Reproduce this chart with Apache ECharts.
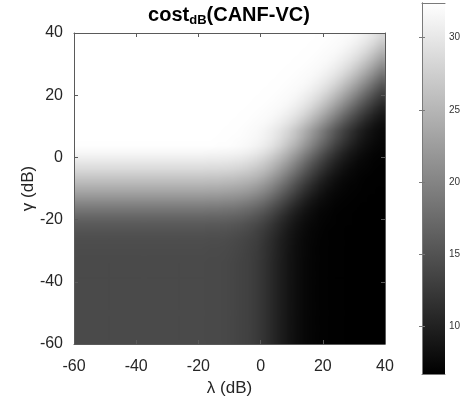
<!DOCTYPE html>
<html>
<head>
<meta charset="utf-8">
<script src="https://cdn.jsdelivr.net/npm/echarts@6/dist/echarts.min.js"></script>
<style>
  html, body { margin: 0; padding: 0; background: #ffffff; }
  #wrap { position: relative; width: 466px; height: 400px; overflow: hidden; }
  /* map drawn on whole 8 px cells, then fitted to the 311 px plot box */
  #heat { position: absolute; left: 74px; top: 33px; width: 320px; height: 320px;
          filter: url(#soften); transform: scale(0.971875); transform-origin: 0 0; }
  #chart { position: absolute; left: 0; top: 0; width: 466px; height: 400px; }
</style>
</head>
<body>
<svg width="0" height="0" style="position:absolute">
  <defs>
    <!-- box filter one cell wide: turns the blocky cells into a continuous shading -->
    <filter id="soften" x="0" y="0" width="1" height="1" color-interpolation-filters="sRGB">
      <feConvolveMatrix order="8" divisor="64" edgeMode="duplicate" preserveAlpha="true"
        kernelMatrix="1 1 1 1 1 1 1 1  1 1 1 1 1 1 1 1  1 1 1 1 1 1 1 1  1 1 1 1 1 1 1 1  1 1 1 1 1 1 1 1  1 1 1 1 1 1 1 1  1 1 1 1 1 1 1 1  1 1 1 1 1 1 1 1"/>
    </filter>
  </defs>
</svg>
<div id="wrap">
  <div id="heat"></div>
  <div id="chart"></div>
</div>
<script>
// Cell centres of the cost grid (dB), 2.5 dB spacing over [-60, 40]
const lambdaCenters = [-58.75, -56.25, -53.75, -51.25, -48.75, -46.25, -43.75, -41.25, -38.75, -36.25,
  -33.75, -31.25, -28.75, -26.25, -23.75, -21.25, -18.75, -16.25, -13.75, -11.25,
  -8.75, -6.25, -3.75, -1.25, 1.25, 3.75, 6.25, 8.75, 11.25, 13.75,
  16.25, 18.75, 21.25, 23.75, 26.25, 28.75, 31.25, 33.75, 36.25, 38.75];
const gammaCenters = [-58.75, -56.25, -53.75, -51.25, -48.75, -46.25, -43.75, -41.25, -38.75, -36.25,
  -33.75, -31.25, -28.75, -26.25, -23.75, -21.25, -18.75, -16.25, -13.75, -11.25,
  -8.75, -6.25, -3.75, -1.25, 1.25, 3.75, 6.25, 8.75, 11.25, 13.75,
  16.25, 18.75, 21.25, 23.75, 26.25, 28.75, 31.25, 33.75, 36.25, 38.75];

// cost in dB; one row per gamma, top row is gamma = 38.75, columns follow lambdaCenters
const costRows = [
  [32.4,32.4,32.4,32.4,32.4,32.4,32.4,32.4,32.4,32.4, 32.4,32.4,32.4,32.4,32.4,32.4,32.4,32.4,32.4,32.4,
   32.4,32.4,32.4,32.4,32.4,32.4,32.4,32.4,32.4,32.4, 32.4,32.3,32.3,32.2,32.0,31.8,31.3,30.6,29.6,28.3],
  [32.4,32.4,32.4,32.4,32.4,32.4,32.4,32.4,32.4,32.4, 32.4,32.4,32.4,32.4,32.4,32.4,32.4,32.4,32.4,32.4,
   32.4,32.4,32.4,32.4,32.4,32.4,32.4,32.4,32.4,32.4, 32.3,32.3,32.2,32.0,31.8,31.3,30.6,29.6,28.3,26.6],
  [32.4,32.4,32.4,32.4,32.4,32.4,32.4,32.4,32.4,32.4, 32.4,32.4,32.4,32.4,32.4,32.4,32.4,32.4,32.4,32.4,
   32.4,32.4,32.4,32.4,32.4,32.4,32.4,32.4,32.4,32.3, 32.3,32.2,32.0,31.8,31.3,30.6,29.6,28.3,26.6,24.6],
  [32.4,32.4,32.4,32.4,32.4,32.4,32.4,32.4,32.4,32.4, 32.4,32.4,32.4,32.4,32.4,32.4,32.4,32.4,32.4,32.4,
   32.4,32.4,32.4,32.4,32.4,32.4,32.4,32.4,32.3,32.3, 32.2,32.0,31.8,31.3,30.6,29.6,28.3,26.6,24.6,22.5],
  [32.4,32.4,32.4,32.4,32.4,32.4,32.4,32.4,32.4,32.4, 32.4,32.4,32.4,32.4,32.4,32.4,32.4,32.4,32.4,32.4,
   32.4,32.4,32.4,32.4,32.4,32.4,32.4,32.3,32.3,32.2, 32.0,31.8,31.3,30.6,29.6,28.3,26.6,24.6,22.5,20.3],
  [32.4,32.4,32.4,32.4,32.4,32.4,32.4,32.4,32.4,32.4, 32.4,32.4,32.4,32.4,32.4,32.4,32.4,32.4,32.4,32.4,
   32.4,32.4,32.4,32.4,32.4,32.4,32.3,32.3,32.2,32.0, 31.8,31.3,30.6,29.6,28.3,26.6,24.6,22.5,20.3,18.0],
  [32.4,32.4,32.4,32.4,32.4,32.4,32.4,32.4,32.4,32.4, 32.4,32.4,32.4,32.4,32.4,32.4,32.4,32.4,32.4,32.4,
   32.4,32.4,32.4,32.4,32.4,32.3,32.3,32.2,32.0,31.8, 31.3,30.6,29.6,28.3,26.6,24.6,22.5,20.3,18.0,15.8],
  [32.4,32.4,32.4,32.4,32.4,32.4,32.4,32.4,32.4,32.4, 32.4,32.4,32.4,32.4,32.4,32.4,32.4,32.4,32.4,32.4,
   32.4,32.4,32.4,32.4,32.3,32.3,32.2,32.0,31.8,31.3, 30.6,29.6,28.3,26.6,24.6,22.5,20.3,18.0,15.8,13.8],
  [32.4,32.4,32.4,32.4,32.4,32.4,32.4,32.4,32.4,32.4, 32.4,32.4,32.4,32.4,32.4,32.4,32.4,32.4,32.4,32.4,
   32.4,32.4,32.4,32.3,32.3,32.2,32.0,31.8,31.3,30.6, 29.6,28.3,26.6,24.6,22.5,20.3,18.0,15.8,13.8,11.9],
  [32.4,32.4,32.4,32.4,32.4,32.4,32.4,32.4,32.4,32.4, 32.4,32.4,32.4,32.4,32.4,32.4,32.4,32.4,32.4,32.4,
   32.4,32.4,32.3,32.3,32.2,32.0,31.8,31.3,30.6,29.6, 28.3,26.6,24.6,22.5,20.3,18.0,15.8,13.8,11.9,10.3],
  [32.4,32.4,32.4,32.4,32.4,32.4,32.4,32.4,32.4,32.4, 32.4,32.4,32.4,32.4,32.4,32.4,32.4,32.4,32.4,32.4,
   32.4,32.3,32.3,32.2,32.0,31.8,31.3,30.6,29.6,28.3, 26.6,24.6,22.5,20.3,18.0,15.8,13.8,11.9,10.3,9.1],
  [32.4,32.4,32.4,32.4,32.4,32.4,32.4,32.4,32.4,32.4, 32.4,32.4,32.4,32.4,32.4,32.4,32.4,32.4,32.4,32.4,
   32.3,32.3,32.2,32.0,31.8,31.3,30.6,29.6,28.3,26.6, 24.6,22.5,20.3,18.0,15.8,13.8,11.9,10.3,9.1,8.2],
  [32.4,32.4,32.4,32.4,32.4,32.4,32.4,32.4,32.4,32.4, 32.4,32.4,32.4,32.4,32.4,32.4,32.4,32.4,32.4,32.3,
   32.3,32.2,32.0,31.8,31.3,30.6,29.6,28.3,26.6,24.6, 22.5,20.3,18.0,15.8,13.8,11.9,10.3,9.1,8.2,7.6],
  [32.4,32.4,32.4,32.4,32.4,32.4,32.4,32.4,32.4,32.4, 32.4,32.4,32.4,32.4,32.4,32.4,32.4,32.4,32.3,32.3,
   32.2,32.1,31.9,31.6,31.0,30.2,29.0,27.5,25.7,23.6, 21.4,19.2,17.0,14.8,12.8,11.1,9.7,8.6,7.9,7.4],
  [32.3,32.3,32.3,32.3,32.3,32.3,32.3,32.3,32.3,32.3, 32.3,32.3,32.3,32.3,32.3,32.3,32.3,32.3,32.2,32.2,
   32.1,31.9,31.6,31.1,30.4,29.4,28.0,26.2,24.3,22.1, 19.9,17.6,15.5,13.4,11.6,10.1,8.9,8.1,7.5,7.2],
  [31.4,31.4,31.4,31.4,31.4,31.4,31.4,31.4,31.4,31.4, 31.4,31.4,31.4,31.4,31.4,31.4,31.4,31.3,31.3,31.2,
   31.1,30.9,30.5,29.9,29.0,27.8,26.2,24.3,22.3,20.1, 17.9,15.7,13.6,11.8,10.2,9.0,8.2,7.6,7.2,7.0],
  [30.1,30.1,30.1,30.1,30.1,30.1,30.1,30.1,30.1,30.1, 30.1,30.1,30.1,30.1,30.1,30.1,30.1,30.0,30.0,29.9,
   29.7,29.5,29.0,28.3,27.3,26.0,24.3,22.4,20.3,18.1, 15.9,13.9,12.0,10.4,9.2,8.3,7.6,7.3,7.0,6.9],
  [28.6,28.6,28.6,28.6,28.6,28.6,28.6,28.6,28.6,28.6, 28.6,28.6,28.6,28.6,28.6,28.6,28.6,28.5,28.5,28.4,
   28.2,27.9,27.4,26.6,25.6,24.2,22.4,20.5,18.4,16.3, 14.2,12.3,10.7,9.4,8.4,7.7,7.3,7.1,6.9,6.8],
  [26.8,26.8,26.8,26.8,26.8,26.8,26.8,26.8,26.8,26.8, 26.8,26.8,26.8,26.8,26.8,26.8,26.8,26.7,26.7,26.5,
   26.4,26.0,25.5,24.8,23.7,22.2,20.5,18.5,16.5,14.5, 12.6,10.9,9.5,8.5,7.8,7.4,7.1,6.9,6.8,6.8],
  [24.9,24.9,24.9,24.9,24.9,24.9,24.9,24.9,24.9,24.9, 24.9,24.9,24.9,24.9,24.9,24.9,24.9,24.8,24.8,24.6,
   24.4,24.1,23.6,22.8,21.7,20.3,18.5,16.7,14.7,12.8, 11.1,9.7,8.7,7.9,7.4,7.1,7.0,6.8,6.8,6.8],
  [23.0,23.0,23.0,23.0,23.0,23.0,23.0,23.0,23.0,23.0, 23.0,23.0,23.0,23.0,23.0,23.0,23.0,22.9,22.9,22.7,
   22.5,22.2,21.7,20.9,19.8,18.4,16.7,14.9,13.1,11.4, 10.0,8.9,8.0,7.5,7.2,7.0,6.9,6.8,6.8,6.7],
  [20.9,20.9,20.9,20.9,20.9,20.9,20.9,20.9,20.9,20.9, 20.9,20.9,20.9,20.9,20.9,20.9,20.9,20.8,20.8,20.6,
   20.5,20.1,19.6,18.8,17.8,16.4,14.8,13.1,11.5,10.1, 8.9,8.1,7.6,7.2,7.0,6.9,6.8,6.8,6.7,6.7],
  [18.9,18.9,18.9,18.9,18.9,18.9,18.9,18.9,18.9,18.9, 18.9,18.9,18.9,18.9,18.9,18.9,18.9,18.8,18.8,18.6,
   18.5,18.1,17.6,16.9,15.9,14.6,13.1,11.6,10.2,9.1, 8.2,7.6,7.3,7.0,6.9,6.8,6.8,6.7,6.7,6.7],
  [17.2,17.2,17.2,17.2,17.2,17.2,17.2,17.2,17.2,17.2, 17.2,17.2,17.2,17.2,17.2,17.2,17.2,17.1,17.1,17.0,
   16.8,16.5,16.0,15.3,14.3,13.1,11.7,10.4,9.3,8.4, 7.8,7.3,7.1,6.9,6.8,6.8,6.7,6.7,6.7,6.7],
  [15.9,15.9,15.9,15.9,15.9,15.9,15.9,15.9,15.9,15.9, 15.9,15.9,15.9,15.9,15.9,15.9,15.9,15.8,15.8,15.7,
   15.5,15.2,14.7,14.1,13.1,12.0,10.8,9.7,8.7,8.0, 7.5,7.2,7.0,6.9,6.8,6.8,6.7,6.7,6.7,6.7],
  [15.1,15.1,15.1,15.1,15.1,15.1,15.1,15.1,15.1,15.1, 15.1,15.1,15.1,15.1,15.1,15.1,15.1,15.0,15.0,14.9,
   14.7,14.4,14.0,13.3,12.4,11.4,10.3,9.2,8.4,7.8, 7.3,7.1,6.9,6.8,6.8,6.7,6.7,6.7,6.7,6.7],
  [14.6,14.6,14.6,14.6,14.6,14.6,14.6,14.6,14.6,14.6, 14.6,14.6,14.6,14.6,14.6,14.6,14.6,14.5,14.5,14.4,
   14.2,13.9,13.5,12.9,12.0,11.0,9.9,9.0,8.2,7.6, 7.3,7.0,6.9,6.8,6.8,6.7,6.7,6.7,6.7,6.7],
  [14.4,14.4,14.4,14.4,14.4,14.4,14.4,14.4,14.4,14.4, 14.4,14.4,14.4,14.4,14.4,14.4,14.4,14.3,14.3,14.2,
   14.0,13.7,13.3,12.7,11.8,10.9,9.8,8.9,8.1,7.6, 7.2,7.0,6.9,6.8,6.8,6.7,6.7,6.7,6.7,6.7],
  [14.3,14.3,14.3,14.3,14.3,14.3,14.3,14.3,14.3,14.3, 14.3,14.3,14.3,14.3,14.3,14.3,14.3,14.2,14.2,14.1,
   13.9,13.6,13.2,12.6,11.8,10.8,9.8,8.8,8.1,7.6, 7.2,7.0,6.9,6.8,6.8,6.7,6.7,6.7,6.7,6.7],
  [14.2,14.2,14.2,14.2,14.2,14.2,14.2,14.2,14.2,14.2, 14.2,14.2,14.2,14.2,14.2,14.2,14.2,14.1,14.1,14.0,
   13.8,13.5,13.1,12.5,11.7,10.7,9.7,8.8,8.1,7.5, 7.2,7.0,6.9,6.8,6.8,6.7,6.7,6.7,6.7,6.7],
  [14.2,14.2,14.2,14.2,14.2,14.2,14.2,14.2,14.2,14.2, 14.2,14.2,14.2,14.2,14.2,14.2,14.2,14.1,14.1,14.0,
   13.8,13.5,13.1,12.5,11.7,10.7,9.7,8.8,8.1,7.5, 7.2,7.0,6.9,6.8,6.8,6.7,6.7,6.7,6.7,6.7],
  [14.2,14.2,14.2,14.2,14.2,14.2,14.2,14.2,14.2,14.2, 14.2,14.2,14.2,14.2,14.2,14.2,14.2,14.1,14.1,14.0,
   13.8,13.5,13.1,12.5,11.7,10.7,9.7,8.8,8.1,7.5, 7.2,7.0,6.9,6.8,6.8,6.7,6.7,6.7,6.7,6.7],
  [14.2,14.2,14.2,14.2,14.2,14.2,14.2,14.2,14.2,14.2, 14.2,14.2,14.2,14.2,14.2,14.2,14.2,14.1,14.1,14.0,
   13.8,13.5,13.1,12.5,11.7,10.7,9.7,8.8,8.1,7.5, 7.2,7.0,6.9,6.8,6.8,6.7,6.7,6.7,6.7,6.7],
  [14.2,14.2,14.2,14.2,14.2,14.2,14.2,14.2,14.2,14.2, 14.2,14.2,14.2,14.2,14.2,14.2,14.2,14.1,14.1,14.0,
   13.8,13.5,13.1,12.5,11.7,10.7,9.7,8.8,8.1,7.5, 7.2,7.0,6.9,6.8,6.8,6.7,6.7,6.7,6.7,6.7],
  [14.2,14.2,14.2,14.2,14.2,14.2,14.2,14.2,14.2,14.2, 14.2,14.2,14.2,14.2,14.2,14.2,14.2,14.1,14.1,14.0,
   13.8,13.5,13.1,12.5,11.7,10.7,9.7,8.8,8.1,7.5, 7.2,7.0,6.9,6.8,6.8,6.7,6.7,6.7,6.7,6.7],
  [14.2,14.2,14.2,14.2,14.2,14.2,14.2,14.2,14.2,14.2, 14.2,14.2,14.2,14.2,14.2,14.2,14.2,14.1,14.1,14.0,
   13.8,13.5,13.1,12.5,11.7,10.7,9.7,8.8,8.1,7.5, 7.2,7.0,6.9,6.8,6.8,6.7,6.7,6.7,6.7,6.7],
  [14.2,14.2,14.2,14.2,14.2,14.2,14.2,14.2,14.2,14.2, 14.2,14.2,14.2,14.2,14.2,14.2,14.2,14.1,14.1,14.0,
   13.8,13.5,13.1,12.5,11.7,10.7,9.7,8.8,8.1,7.5, 7.2,7.0,6.9,6.8,6.8,6.7,6.7,6.7,6.7,6.7],
  [14.2,14.2,14.2,14.2,14.2,14.2,14.2,14.2,14.2,14.2, 14.2,14.2,14.2,14.2,14.2,14.2,14.2,14.1,14.1,14.0,
   13.8,13.5,13.1,12.5,11.7,10.7,9.7,8.8,8.1,7.5, 7.2,7.0,6.9,6.8,6.8,6.7,6.7,6.7,6.7,6.7],
  [14.2,14.2,14.2,14.2,14.2,14.2,14.2,14.2,14.2,14.2, 14.2,14.2,14.2,14.2,14.2,14.2,14.2,14.1,14.1,14.0,
   13.8,13.5,13.1,12.5,11.7,10.7,9.7,8.8,8.1,7.5, 7.2,7.0,6.9,6.8,6.8,6.7,6.7,6.7,6.7,6.7],
  [14.2,14.2,14.2,14.2,14.2,14.2,14.2,14.2,14.2,14.2, 14.2,14.2,14.2,14.2,14.2,14.2,14.2,14.1,14.1,14.0,
   13.8,13.5,13.1,12.5,11.7,10.7,9.7,8.8,8.1,7.5, 7.2,7.0,6.9,6.8,6.8,6.7,6.7,6.7,6.7,6.7]
];

// Axis and colour-bar settings
const axisRange = [-60, 40];
const axisStep = 20;
const colorbarTicks = [10, 15, 20, 25, 30];
const costRange = [6.7, 32.4];
const titleMain = 'cost';
const titleSub = 'dB';
const titleTail = '(CANF-VC)';
const xName = 'λ (dB)';
const yName = 'γ (dB)';

const FONT = '"Liberation Sans", Arial, Helvetica, sans-serif';
const FRAME = '#5a5a5a';
const TEXT = '#262626';

// ---- cost map (its own layer, softened by the SVG filter) ----
const heatData = [];
costRows.forEach(function (row, r) {
  const gi = gammaCenters.length - 1 - r;
  row.forEach(function (v, li) { heatData.push([li, gi, v]); });
});

const heat = echarts.init(document.getElementById('heat'), null, { renderer: 'canvas' });
heat.setOption({
  animation: false,
  grid: { left: 0, top: 0, width: 320, height: 320, outerBoundsMode: 'none' },
  xAxis: { type: 'category', data: lambdaCenters, show: false },
  yAxis: { type: 'category', data: gammaCenters, show: false },
  visualMap: {
    type: 'continuous', show: false, dimension: 2,
    min: costRange[0], max: costRange[1],
    inRange: { color: ['#000000', '#ffffff'] }
  },
  series: [{ type: 'heatmap', data: heatData, emphasis: { disabled: true }, progressive: 0 }]
});

// ---- axes frame, labels, title and colour bar ----
function frameAxis(extra) {
  return Object.assign({
    type: 'value', z: 10,
    axisLine: { show: true, onZero: false, lineStyle: { color: FRAME, width: 1 } },
    axisTick: { show: true, inside: true, length: 4, lineStyle: { color: FRAME, width: 1 } },
    axisLabel: { show: false },
    splitLine: { show: false }
  }, extra);
}
const CB = '#7a7a7a';

const chart = echarts.init(document.getElementById('chart'), null, { renderer: 'canvas' });
chart.setOption({
  animation: false,
  backgroundColor: 'transparent',
  textStyle: { fontFamily: FONT },
  grid: [
    { left: 74, top: 33, width: 311, height: 311, outerBoundsMode: 'none' },
    { left: 422, top: 3, width: 23, height: 371, outerBoundsMode: 'none' }
  ],
  xAxis: [
    frameAxis({
      gridIndex: 0, position: 'bottom', min: axisRange[0], max: axisRange[1], interval: axisStep,
      axisLabel: { show: true, color: TEXT, fontSize: 16, fontFamily: FONT, margin: 15 },
      name: xName, nameLocation: 'middle', nameGap: 33,
      nameTextStyle: { color: TEXT, fontSize: 17, fontFamily: FONT }
    }),
    frameAxis({ gridIndex: 0, position: 'top', min: axisRange[0], max: axisRange[1], interval: axisStep }),
    frameAxis({ gridIndex: 1, position: 'bottom', min: 0, max: 1,
      axisLine: { show: true, lineStyle: { color: CB, width: 1 } }, axisTick: { show: false } }),
    frameAxis({ gridIndex: 1, position: 'top', min: 0, max: 1,
      axisLine: { show: true, lineStyle: { color: CB, width: 1 } }, axisTick: { show: false } })
  ],
  yAxis: [
    frameAxis({
      gridIndex: 0, position: 'left', min: axisRange[0], max: axisRange[1], interval: axisStep,
      axisLabel: { show: true, color: TEXT, fontSize: 16, fontFamily: FONT, margin: 11 },
      name: yName, nameLocation: 'middle', nameGap: 37, nameMoveOverlap: false,
      nameTextStyle: { color: TEXT, fontSize: 17, fontFamily: FONT }
    }),
    frameAxis({ gridIndex: 0, position: 'right', min: axisRange[0], max: axisRange[1], interval: axisStep }),
    frameAxis({
      gridIndex: 1, position: 'right', min: costRange[0], max: costRange[1],
      axisLine: { show: true, lineStyle: { color: CB, width: 1 } },
      axisTick: { show: true, inside: true, length: 3, customValues: colorbarTicks, lineStyle: { color: CB } },
      axisLabel: { show: true, customValues: colorbarTicks, color: '#333333', fontSize: 10, fontFamily: FONT, margin: 4 }
    }),
    frameAxis({
      gridIndex: 1, position: 'left', min: costRange[0], max: costRange[1],
      axisLine: { show: true, lineStyle: { color: CB, width: 1 } },
      axisTick: { show: true, inside: true, length: 3, customValues: colorbarTicks, lineStyle: { color: CB } }
    })
  ],
  series: [{
    // colour bar: the black-to-white scale spanning the cost range on the bar's own axis
    type: 'custom', xAxisIndex: 2, yAxisIndex: 2,
    data: [[0, costRange[0], 1, costRange[1]]],
    encode: { x: [0, 2], y: [1, 3] },
    silent: true,
    renderItem: function (params, api) {
      const p0 = api.coord([api.value(0), api.value(1)]);
      const p1 = api.coord([api.value(2), api.value(3)]);
      return {
        type: 'rect',
        shape: { x: p0[0], y: p1[1], width: p1[0] - p0[0], height: p0[1] - p1[1] },
        style: {
          fill: new echarts.graphic.LinearGradient(0, 1, 0, 0, [
            { offset: 0, color: '#000000' }, { offset: 1, color: '#ffffff' }
          ])
        }
      };
    }
  }],
  graphic: [{
    type: 'text', x: 229, y: 5, z: 20,
    style: {
      text: '{a|' + titleMain + '}{s|' + titleSub + '}{a|' + titleTail + '}',
      align: 'center', verticalAlign: 'top',
      rich: {
        a: { fontSize: 20, fontWeight: 'bold', fontFamily: FONT, fill: '#000000', lineHeight: 22, verticalAlign: 'top' },
        s: { fontSize: 13, fontWeight: 'bold', fontFamily: FONT, fill: '#000000', lineHeight: 13, padding: [12, 0, 0, 0], verticalAlign: 'bottom' }
      }
    }
  }]
});
</script>
</body>
</html>
